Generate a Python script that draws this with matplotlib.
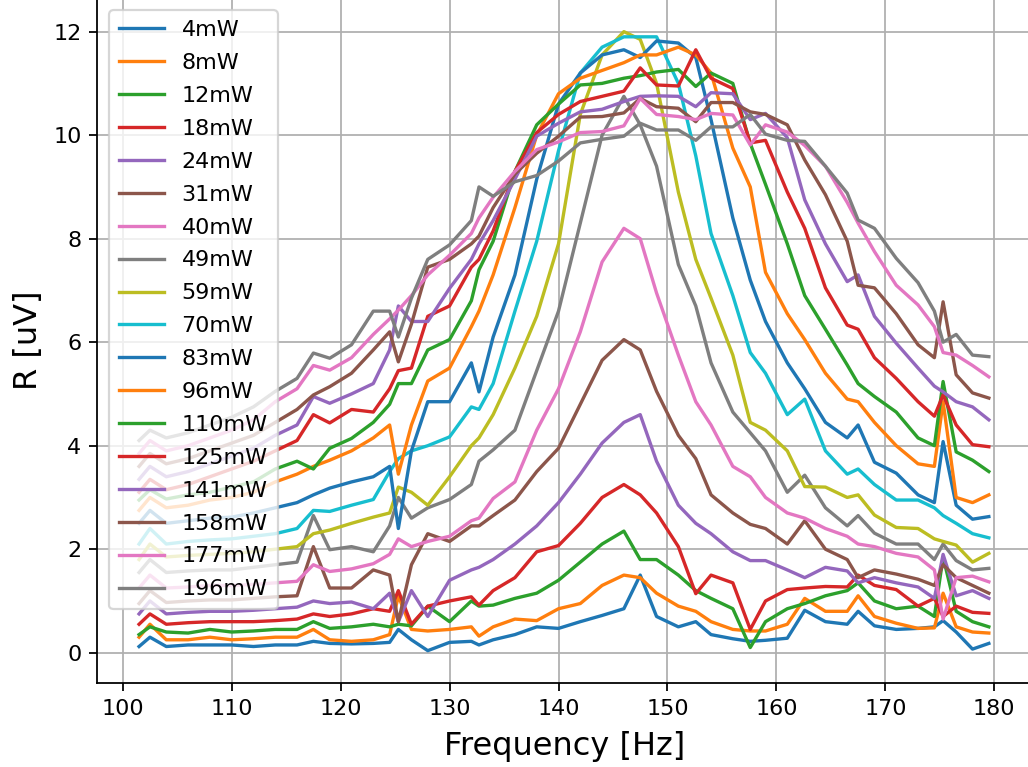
import matplotlib
matplotlib.use("Agg")
import matplotlib.pyplot as plt

# frequency sweep [Hz]
freq = [101.5, 102.5, 104, 106, 108, 110, 112, 114, 116, 117.5,
        119, 121, 123, 124.5, 125.3, 126.5, 128, 130, 132, 132.7,
        134, 136, 138, 140, 142, 144, 146, 147.5, 149, 151,
        152.6, 154, 156, 157.6, 159, 161, 162.6, 164.5, 166.5, 167.5,
        169, 171, 173, 174.5, 175.3, 176.5, 178, 179.5]

# lock-in amplitude R [uV] per heater power
r_4mW = [0.12, 0.30, 0.12, 0.15, 0.15, 0.15, 0.12, 0.15, 0.15, 0.22,
         0.18, 0.17, 0.18, 0.20, 0.45, 0.25, 0.04, 0.20, 0.22, 0.15,
         0.25, 0.35, 0.50, 0.47, 0.60, 0.72, 0.85, 1.50, 0.70, 0.50,
         0.60, 0.35, 0.27, 0.22, 0.24, 0.28, 0.82, 0.60, 0.55, 0.80,
         0.52, 0.45, 0.47, 0.50, 0.62, 0.40, 0.07, 0.18]
r_8mW = [0.30, 0.55, 0.25, 0.25, 0.30, 0.25, 0.27, 0.30, 0.30, 0.45,
         0.25, 0.22, 0.25, 0.35, 1.10, 0.45, 0.42, 0.45, 0.50, 0.32,
         0.50, 0.65, 0.62, 0.85, 0.95, 1.30, 1.50, 1.45, 1.15, 0.90,
         0.80, 0.60, 0.45, 0.42, 0.42, 0.55, 1.05, 0.80, 0.80, 1.10,
         0.70, 0.57, 0.47, 0.48, 1.15, 0.50, 0.40, 0.38]
r_12mW = [0.35, 0.50, 0.40, 0.38, 0.45, 0.40, 0.42, 0.45, 0.45, 0.60,
          0.47, 0.50, 0.55, 0.50, 0.55, 0.52, 0.90, 0.60, 1.00, 0.90,
          0.92, 1.05, 1.15, 1.40, 1.75, 2.10, 2.35, 1.80, 1.80, 1.50,
          1.20, 1.05, 0.85, 0.10, 0.60, 0.85, 0.95, 1.10, 1.20, 1.35,
          1.00, 0.85, 0.90, 0.70, 1.85, 0.80, 0.60, 0.50]
r_18mW = [0.55, 0.75, 0.55, 0.58, 0.60, 0.60, 0.60, 0.62, 0.65, 0.75,
          0.70, 0.75, 0.85, 0.80, 1.20, 0.55, 0.90, 1.00, 1.08, 0.92,
          1.20, 1.45, 1.95, 2.07, 2.50, 3.00, 3.25, 3.05, 2.70, 2.05,
          1.14, 1.50, 1.35, 0.45, 1.00, 1.22, 1.25, 1.28, 1.27, 1.50,
          1.30, 1.22, 0.90, 1.05, 0.70, 0.90, 0.78, 0.76]
r_24mW = [0.75, 1.00, 0.75, 0.78, 0.80, 0.80, 0.82, 0.85, 0.88, 1.00,
          0.95, 0.98, 0.85, 1.15, 0.60, 1.20, 0.70, 1.40, 1.60, 1.65,
          1.80, 2.10, 2.45, 2.90, 3.45, 4.05, 4.45, 4.60, 3.70, 2.85,
          2.50, 2.30, 1.95, 1.78, 1.78, 1.60, 1.45, 1.65, 1.58, 1.35,
          1.45, 1.35, 1.27, 1.05, 1.90, 1.10, 1.20, 1.05]
r_31mW = [0.95, 1.20, 0.97, 1.00, 1.02, 1.02, 1.05, 1.08, 1.10, 2.05,
          1.25, 1.25, 1.60, 1.50, 0.60, 1.70, 2.30, 2.15, 2.45, 2.45,
          2.65, 2.95, 3.50, 3.95, 4.80, 5.65, 6.05, 5.85, 5.05, 4.20,
          3.75, 3.05, 2.70, 2.48, 2.40, 2.10, 2.55, 2.00, 1.80, 1.45,
          1.60, 1.52, 1.42, 1.30, 1.70, 1.45, 1.30, 1.15]
r_40mW = [1.25, 1.50, 1.25, 1.27, 1.30, 1.30, 1.32, 1.35, 1.38, 1.70,
          1.57, 1.62, 1.72, 1.90, 2.20, 2.05, 2.15, 2.25, 2.55, 2.60,
          2.98, 3.30, 4.30, 5.10, 6.20, 7.55, 8.20, 8.00, 6.95, 5.75,
          4.85, 4.40, 3.60, 3.40, 3.00, 2.70, 2.60, 2.40, 2.25, 2.10,
          2.05, 1.92, 1.85, 1.60, 0.65, 1.45, 1.48, 1.37]
r_49mW = [1.55, 1.80, 1.55, 1.58, 1.60, 1.60, 1.65, 1.70, 1.75, 2.65,
          1.99, 2.05, 1.95, 2.45, 3.00, 2.60, 2.80, 2.96, 3.25, 3.70,
          3.92, 4.30, 5.45, 6.60, 8.30, 10.00, 10.75, 10.20, 9.40, 7.50,
          6.70, 5.60, 4.65, 4.25, 3.90, 3.10, 3.43, 2.80, 2.45, 2.65,
          2.31, 2.10, 2.10, 1.80, 2.10, 1.78, 1.60, 1.63]
r_59mW = [1.80, 2.10, 1.85, 1.88, 1.90, 1.92, 1.95, 2.00, 2.05, 2.30,
          2.37, 2.50, 2.62, 2.70, 3.20, 3.10, 2.85, 3.40, 4.00, 4.15,
          4.60, 5.50, 6.50, 7.90, 10.40, 11.55, 12.00, 11.85, 11.00, 8.90,
          7.60, 6.85, 5.75, 4.45, 4.30, 3.90, 3.21, 3.20, 3.00, 3.05,
          2.66, 2.42, 2.40, 2.20, 2.15, 2.08, 1.75, 1.92]
r_70mW = [2.10, 2.40, 2.10, 2.15, 2.18, 2.20, 2.25, 2.30, 2.40, 2.75,
          2.73, 2.85, 2.96, 3.50, 3.75, 3.90, 4.00, 4.17, 4.75, 4.70,
          5.20, 6.60, 7.95, 9.70, 11.20, 11.70, 11.90, 11.90, 11.90, 11.00,
          9.60, 8.10, 6.90, 5.80, 5.40, 4.60, 4.90, 3.90, 3.45, 3.55,
          3.25, 2.95, 2.95, 2.80, 2.65, 2.50, 2.30, 2.22]
r_83mW = [2.50, 2.75, 2.50, 2.55, 2.60, 2.62, 2.70, 2.80, 2.90, 3.05,
          3.18, 3.30, 3.40, 3.60, 2.40, 3.90, 4.85, 4.85, 5.60, 5.04,
          6.10, 7.30, 9.15, 10.60, 11.20, 11.55, 11.65, 11.50, 11.82, 11.78,
          11.50, 10.30, 8.40, 7.20, 6.40, 5.60, 5.10, 4.45, 4.15, 4.40,
          3.68, 3.47, 3.05, 2.90, 4.08, 2.85, 2.58, 2.63]
r_96mW = [2.75, 3.00, 2.80, 2.85, 2.95, 3.00, 3.10, 3.30, 3.45, 3.60,
          3.72, 3.90, 4.15, 4.40, 3.45, 4.40, 5.25, 5.50, 6.30, 6.60,
          7.30, 8.60, 10.00, 10.80, 11.10, 11.25, 11.40, 11.55, 11.55, 11.70,
          11.55, 11.20, 9.75, 9.00, 7.35, 6.55, 6.05, 5.40, 4.90, 4.85,
          4.45, 4.00, 3.65, 3.60, 4.85, 3.00, 2.90, 3.05]
r_110mW = [2.95, 3.15, 2.97, 3.05, 3.10, 3.20, 3.30, 3.55, 3.70, 3.55,
           3.95, 4.14, 4.45, 4.80, 5.20, 5.20, 5.85, 6.05, 6.80, 7.40,
           7.95, 9.30, 10.20, 10.60, 10.97, 11.00, 11.10, 11.15, 11.22, 11.27,
           10.94, 11.20, 11.00, 9.84, 9.05, 7.90, 6.90, 6.25, 5.56, 5.20,
           4.95, 4.65, 4.15, 4.00, 5.24, 3.88, 3.72, 3.50]
r_125mW = [3.10, 3.35, 3.15, 3.25, 3.40, 3.55, 3.70, 3.90, 4.10, 4.60,
           4.44, 4.70, 4.65, 5.10, 5.45, 5.50, 6.50, 6.70, 7.45, 7.60,
           8.15, 9.30, 10.05, 10.40, 10.65, 10.75, 10.85, 11.30, 10.97, 10.95,
           11.65, 11.10, 10.90, 9.85, 9.90, 8.90, 8.20, 7.05, 6.33, 6.25,
           5.70, 5.30, 4.85, 4.57, 4.98, 4.40, 4.02, 3.98]
r_141mW = [3.35, 3.60, 3.40, 3.50, 3.65, 3.80, 3.95, 4.20, 4.40, 4.95,
           4.82, 5.00, 5.20, 5.85, 6.70, 6.40, 6.40, 7.04, 7.60, 7.90,
           8.35, 9.15, 9.98, 10.23, 10.45, 10.50, 10.65, 10.75, 10.76, 10.75,
           10.55, 10.82, 10.80, 10.30, 10.42, 9.95, 8.75, 7.90, 7.17, 7.30,
           6.50, 5.98, 5.50, 5.15, 5.04, 4.85, 4.75, 4.50]
r_158mW = [3.60, 3.85, 3.65, 3.75, 3.90, 4.05, 4.20, 4.45, 4.70, 4.98,
           5.14, 5.40, 5.85, 6.20, 5.62, 6.35, 7.45, 7.60, 7.90, 8.05,
           8.60, 9.25, 9.65, 9.98, 10.35, 10.36, 10.43, 10.71, 10.55, 10.52,
           10.26, 10.63, 10.63, 10.45, 10.40, 10.20, 9.52, 8.85, 7.95, 7.10,
           7.05, 6.55, 5.95, 5.70, 6.78, 5.37, 5.02, 4.92]
r_177mW = [3.85, 4.10, 3.90, 4.00, 4.15, 4.30, 4.50, 4.85, 5.10, 5.55,
           5.46, 5.70, 6.15, 6.45, 6.62, 6.90, 7.30, 7.68, 8.10, 8.40,
           8.80, 9.30, 9.72, 9.87, 10.05, 10.07, 10.18, 10.71, 10.40, 10.36,
           10.30, 10.42, 10.39, 9.81, 10.20, 10.06, 9.80, 9.40, 8.70, 8.30,
           7.75, 7.10, 6.72, 6.30, 5.80, 5.75, 5.55, 5.33]
r_196mW = [4.10, 4.30, 4.15, 4.25, 4.40, 4.55, 4.75, 5.05, 5.30, 5.79,
           5.69, 5.95, 6.60, 6.60, 6.10, 6.85, 7.60, 7.88, 8.35, 9.00,
           8.82, 9.10, 9.22, 9.50, 9.85, 9.92, 9.98, 10.23, 10.10, 10.10,
           9.90, 10.16, 10.16, 10.40, 10.02, 9.90, 9.88, 9.40, 8.88, 8.36,
           8.20, 7.62, 7.15, 6.60, 6.00, 6.15, 5.75, 5.72]

powers = ["4mW", "8mW", "12mW", "18mW", "24mW", "31mW", "40mW", "49mW", "59mW",
          "70mW", "83mW", "96mW", "110mW", "125mW", "141mW", "158mW", "177mW", "196mW"]
series = [r_4mW, r_8mW, r_12mW, r_18mW, r_24mW, r_31mW, r_40mW, r_49mW, r_59mW,
          r_70mW, r_83mW, r_96mW, r_110mW, r_125mW, r_141mW, r_158mW, r_177mW, r_196mW]

fig = plt.figure(figsize=(1028 / 160, 767 / 160), dpi=160)
ax = fig.add_axes([97 / 1028, 84 / 767, 935 / 1028, 685 / 767])

for label, r in zip(powers, series):
    ax.plot(freq, r, label=label)

ax.set_xlim(97.64, 183.46)
ax.set_ylim(-0.585, 12.65)
ax.set_xticks(range(100, 181, 10))
ax.set_yticks(range(0, 13, 2))
ax.set_xlabel("Frequency [Hz]", fontsize="x-large", labelpad=5.5)
ax.set_ylabel("R [uV]", fontsize="x-large")
ax.grid(True)
ax.legend(loc="upper left", labelspacing=0.58, borderpad=0.45,
          borderaxespad=0.55)

fig.savefig("out.png", dpi=160)
